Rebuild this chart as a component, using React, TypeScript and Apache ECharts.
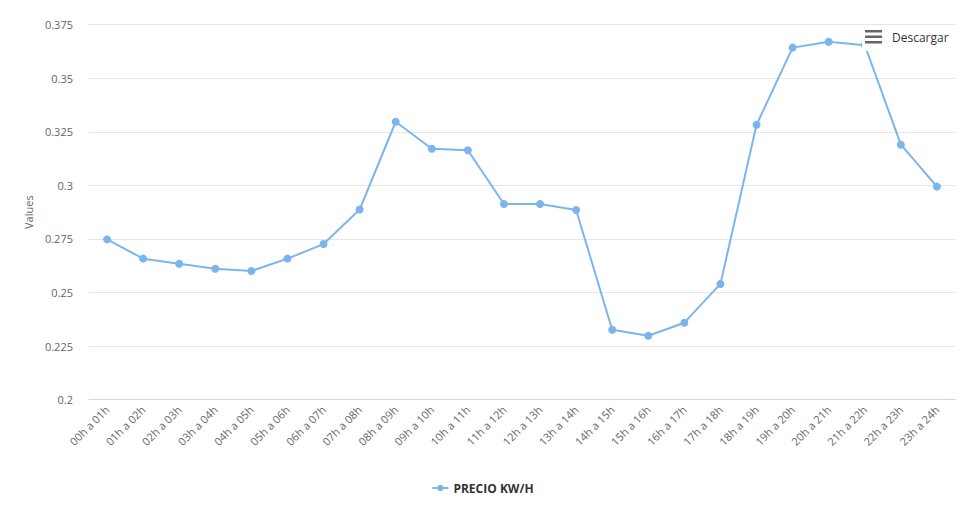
import React, { useEffect, useRef } from "react";
import * as echarts from "echarts";

const categories: string[] = [
  "00h a 01h", "01h a 02h", "02h a 03h", "03h a 04h", "04h a 05h", "05h a 06h",
  "06h a 07h", "07h a 08h", "08h a 09h", "09h a 10h", "10h a 11h", "11h a 12h",
  "12h a 13h", "13h a 14h", "14h a 15h", "15h a 16h", "16h a 17h", "17h a 18h",
  "18h a 19h", "19h a 20h", "20h a 21h", "21h a 22h", "22h a 23h", "23h a 24h",
];

const precioKwh: number[] = [
  0.2748, 0.2658, 0.2634, 0.2611, 0.26, 0.2658,
  0.2726, 0.2887, 0.3297, 0.3171, 0.3164, 0.2913,
  0.2913, 0.2885, 0.2326, 0.2298, 0.2359, 0.254,
  0.3283, 0.3643, 0.367, 0.3654, 0.319, 0.2994,
];

const seriesName = "PRECIO KW/H";
const yAxisName = "Values";
const downloadLabel = "Descargar";
const yMin = 0.2;
const yMax = 0.375;
const yStep = 0.025;

const FONT = "'Open Sans', 'DejaVu Sans', sans-serif";

export default function App() {
  const ref = useRef<HTMLDivElement>(null);

  useEffect(() => {
    if (!ref.current) return;
    const chart = echarts.init(ref.current, undefined, { renderer: "svg" });
    chart.setOption({
      animation: false,
      backgroundColor: "#ffffff",
      textStyle: { fontFamily: FONT },
      grid: { left: 81, right: 2, top: 16.7, bottom: 97.4, containLabel: false },
      xAxis: {
        type: "category",
        data: categories,
        boundaryGap: true,
        axisLine: { show: true, lineStyle: { color: "#ccd6eb", width: 1 } },
        axisTick: { show: false },
        splitLine: { show: false },
        axisLabel: {
          rotate: 45,
          interval: 0,
          margin: 8,
          color: "#666666",
          fontSize: 11,
          fontFamily: FONT,
        },
      },
      yAxis: {
        type: "value",
        min: yMin,
        max: yMax,
        interval: yStep,
        name: yAxisName,
        nameLocation: "middle",
        nameGap: 55,
        nameRotate: 90,
        nameTextStyle: { color: "#666666", fontSize: 11, fontFamily: FONT },
        axisLine: { show: false },
        axisTick: { show: false },
        splitLine: { show: true, lineStyle: { color: "#e6e6e6", width: 1 } },
        axisLabel: {
          margin: 16,
          color: "#666666",
          fontSize: 11,
          fontFamily: FONT,
          formatter: (v: number) => String(parseFloat(v.toFixed(3))),
        },
      },
      legend: {
        show: true,
        left: "center",
        top: 469,
        itemWidth: 16,
        itemHeight: 8,
        itemGap: 20,
        textStyle: { color: "#333333", fontSize: 12, fontWeight: "bold", fontFamily: FONT },
        data: [seriesName],
      },
      tooltip: { show: false },
      series: [
        {
          name: seriesName,
          type: "line",
          data: precioKwh,
          color: "#7cb5ec",
          lineStyle: { color: "#7cb5ec", width: 2 },
          itemStyle: { color: "#7cb5ec" },
          symbol: "circle",
          symbolSize: 8,
          showSymbol: true,
        },
      ],
      graphic: [
        {
          type: "rect",
          z: 100,
          shape: { x: 854, y: 19, width: 93, height: 24 },
          style: { fill: "#ffffff" },
        },
        {
          type: "rect",
          z: 101,
          shape: { x: 857, y: 22, width: 17, height: 2.5 },
          style: { fill: "#666666" },
        },
        {
          type: "rect",
          z: 101,
          shape: { x: 857, y: 27.5, width: 17, height: 2.5 },
          style: { fill: "#666666" },
        },
        {
          type: "rect",
          z: 101,
          shape: { x: 857, y: 33, width: 17, height: 2.5 },
          style: { fill: "#666666" },
        },
        {
          type: "text",
          z: 101,
          x: 884,
          y: 29.7,
          style: {
            text: downloadLabel,
            fill: "#333333",
            font: `12px ${FONT}`,
            verticalAlign: "middle",
            align: "left",
          },
        },
      ],
    });
    return () => chart.dispose();
  }, []);

  return <div ref={ref} style={{ width: 949, height: 489 }} />;
}
